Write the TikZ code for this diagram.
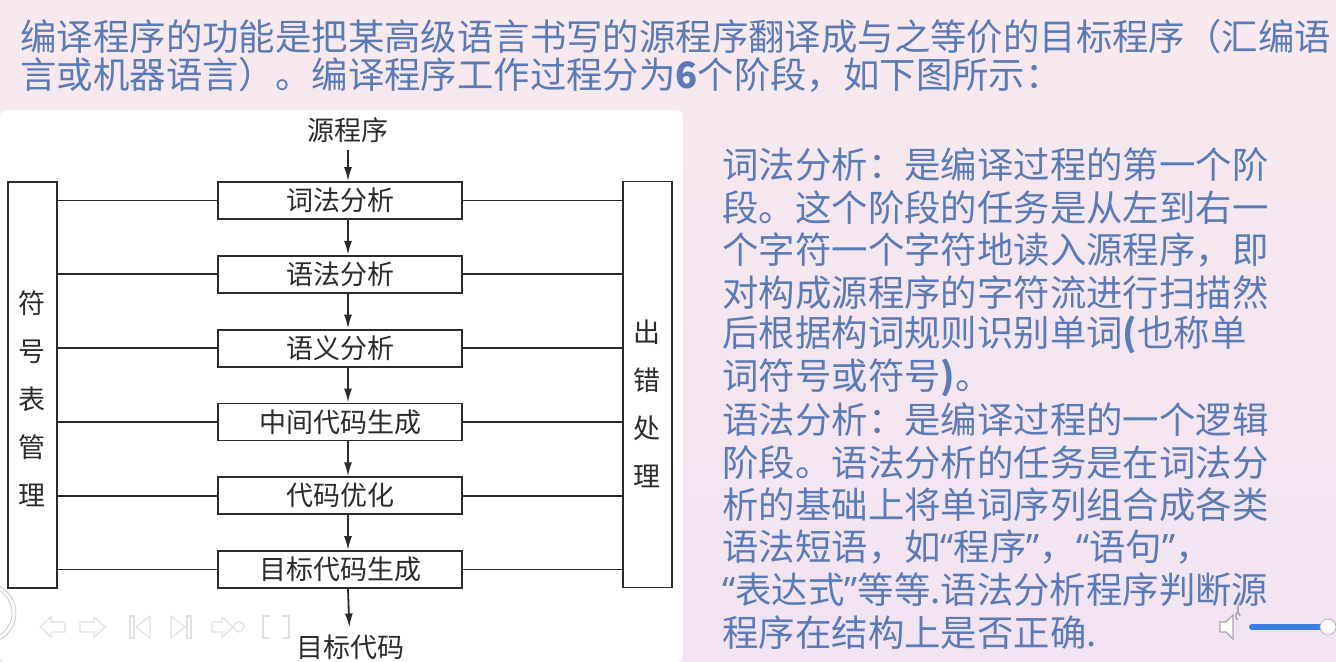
\documentclass[tikz,border=0pt]{standalone}
\usepackage{fontspec}
\usetikzlibrary{arrows.meta,positioning,calc}
\newfontfamily\cjk{Noto Sans CJK SC}
\newfontfamily\qfont{Noto Sans}
\newcommand{\qo}{{\qfont “}}
\newcommand{\qc}{{\qfont ”}}
\definecolor{slidetop}{HTML}{F7E9EE}
\definecolor{slidebot}{HTML}{F2E3F2}
\definecolor{mblue}{HTML}{5A7BB6}
\definecolor{mink}{HTML}{2B2B2B}
\definecolor{sliderblue}{HTML}{3C7DE6}
\tikzstyle{l1}=[line width=0.9pt, draw=mink]
\tikzstyle{slide}=[font=\cjk\fontsize{18.2}{21}\selectfont, text=mblue, inner sep=0pt, anchor=west]
\tikzstyle{stage}=[rectangle, l1, minimum width=122pt, minimum height=18.5pt, inner sep=0pt, font=\cjk\fontsize{13.5}{16}\selectfont, text=mink]
\tikzstyle{side}=[rectangle, l1, minimum width=24.5pt, minimum height=203pt, inner sep=0pt]
\tikzstyle{vlabel}=[align=center, inner sep=0pt, font=\cjk\fontsize{13.5}{24}\selectfont, text=mink]
\tikzstyle{endlabel}=[font=\cjk\fontsize{13.5}{16}\selectfont, text=mink]
\tikzstyle{flow}=[l1, -{Latex[length=7pt, width=4pt]}]
\tikzstyle{link}=[l1]
\tikzstyle{ctrl}=[draw=black!12, fill=white, line width=0.6pt]

\begin{document}
\begin{tikzpicture}[x=0.5pt, y=-0.5pt, node distance=36.9pt, on grid]

    \useasboundingbox (0,0) rectangle (1336,662);
    \shade[top color=slidetop, bottom color=slidebot] (0,0) rectangle (1336,662);
    \path[fill=white, rounded corners=3pt] (0,662) -- (0,110) -- (683,110) -- (683,662) -- cycle;

    % heading
    \node[slide] (h1) at (20,37) {编译程序的功能是把某高级语言书写的源程序翻译成与之等价的目标程序（汇编语};
    \node[slide] (h2) at (20,75) {言或机器语言）。编译程序工作过程分为{\bfseries 6}个阶段，如下图所示：};

    % stages
    \node[stage] (s1) at (340,200.5) {词法分析};
    \node[stage] (s2) [below = of s1] {语法分析};
    \node[stage] (s3) [below = of s2] {语义分析};
    \node[stage] (s4) [below = of s3] {中间代码生成};
    \node[stage] (s5) [below = of s4] {代码优化};
    \node[stage] (s6) [below = of s5] {目标代码生成};

    \node[endlabel] (src) at (348,130) {源程序};
    \node[endlabel] (tgt) at (350,647) {目标代码};

    \draw[flow] (src) -- (src |- s1.north);
    \foreach \i/\j in {1/2,2/3,3/4,4/5,5/6}{
            \draw[flow] (src |- s\i.south) -- (src |- s\j.north);
        }
    \draw[flow] (src |- s6.south) -- (tgt);

    % side boxes
    \node[side] (sym) at (32.5,385) {};
    \node[side] (err) at (647.5,384.5) {};
    \node[vlabel] (symt) at (32,399) {符\\号\\表\\管\\理};
    \node[vlabel] (errt) at (647,404) {出\\错\\处\\理};

    \foreach \i in {1,...,6}{
            \draw[link] (sym.east |- s\i) -- (s\i.west);
            \draw[link] (s\i.east) -- (err.west |- s\i);
        }

    % notes on the right
    \foreach \t [count=\i] in {词法分析：是编译过程的第一个阶,
            段。这个阶段的任务是从左到右一,
            个字符一个字符地读入源程序，即,
            对构成源程序的字符流进行扫描然,
            后根据构词规则识别单词{\bfseries (}也称单,
            词符号或符号{\bfseries )}。,
            语法分析：是编译过程的一个逻辑,
            阶段。语法分析的任务是在词法分,
            析的基础上将单词序列组合成各类,
            语法短语，如\qo 程序\qc，\qo 语句\qc，,
            \qo 表达式\qc 等等.语法分析程序判断源,
            程序在结构上是否正确.}{
            \node[slide] (desc\i) at (722,{165+(\i-1)*42.5}) {\t};
        }

    % player controls
    \draw[black!25, double=white, double distance=1.5pt] (-14,613) circle (28);
    \path[ctrl] (40,627) -- (51,617) -- (51,622) -- (65,622) -- (65,632) -- (51,632) -- (51,637) -- cycle;
    \path[ctrl] (105,627) -- (94,617) -- (94,622) -- (80,622) -- (80,632) -- (94,632) -- (94,637) -- cycle;
    \path[ctrl] (130,616) rectangle (134,638);
    \path[ctrl] (150,616) -- (136,627) -- (150,638) -- cycle;
    \path[ctrl] (171,616) -- (185,627) -- (171,638) -- cycle;
    \path[ctrl] (187,616) rectangle (191,638);
    \path[ctrl] (212,622) -- (222,622) -- (222,617) -- (233,627) -- (222,637) -- (222,632) -- (212,632) -- cycle;
    \path[ctrl] (239,627) circle (5);
    \path[ctrl] (270,616) -- (263,616) -- (263,638) -- (270,638);
    \path[ctrl] (282,616) -- (289,616) -- (289,638) -- (282,638);

    \path[ctrl, draw=black!35] (1220,622) -- (1226,622) -- (1233,615) -- (1233,639) -- (1226,632) -- (1220,632) -- cycle;
    \draw[black!35, line width=0.8pt] (1237,620) arc (-30:30:-8);
    \draw[black!35, line width=0.8pt] (1240,616) arc (-35:35:-12);
    \draw[sliderblue, line width=3pt, line cap=round] (1252,627) -- (1322,627);
    \draw[black!30, fill=white] (1328,627) circle (8);

\end{tikzpicture}
\end{document}
